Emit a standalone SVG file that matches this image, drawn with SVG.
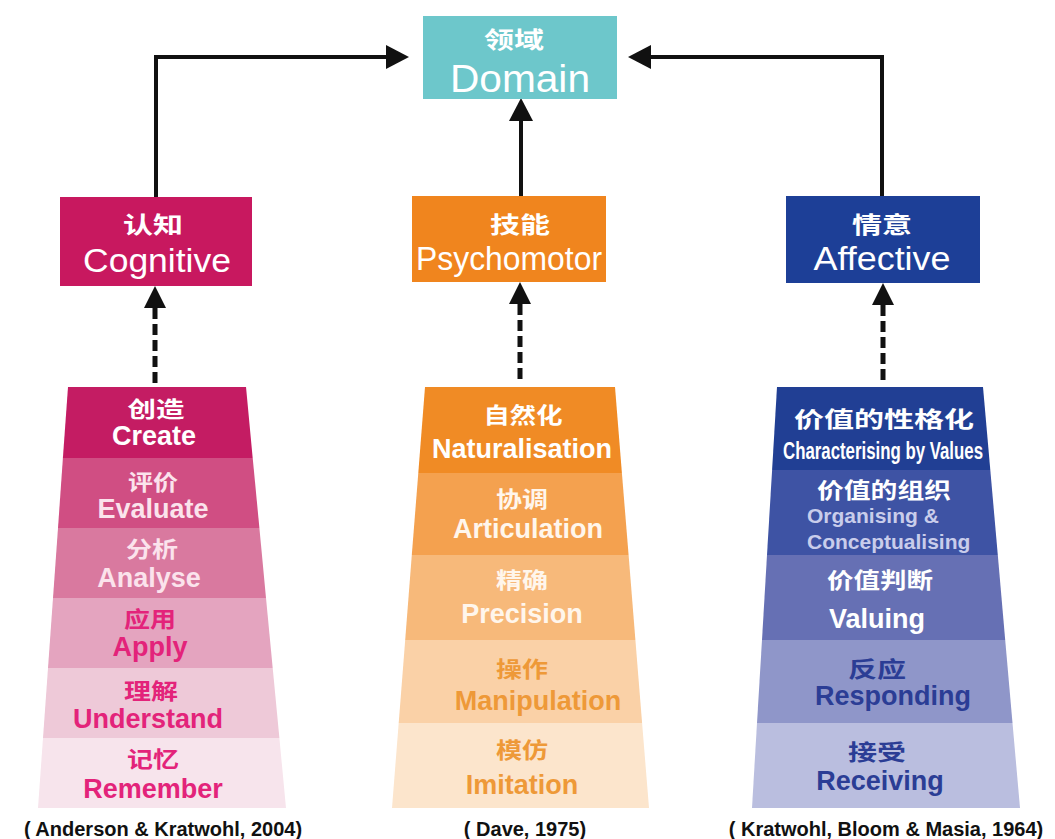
<svg xmlns="http://www.w3.org/2000/svg" width="1055" height="839" viewBox="0 0 1055 839">
<style>
.cjk{font-family:"Noto Sans CJK SC","Noto Sans",sans-serif;font-weight:700;text-anchor:middle;dominant-baseline:central;font-size:22px}
.cjkc{font-size:23px}
.en{font-family:"Liberation Sans",Arial,sans-serif;text-anchor:middle}
.st{text-anchor:start}
.lvl{font-size:27px;font-weight:700}
.cat{font-size:33px;fill:#fff}
.cite{font-family:"Liberation Sans",Arial,sans-serif;font-weight:700;font-size:20px;text-anchor:middle;fill:#111}
.solid{fill:none;stroke:#111;stroke-width:4}
.dash{fill:none;stroke:#111;stroke-width:5;stroke-dasharray:11 5}
.w{fill:#fff}
</style>
<defs>
<marker id="ah" markerUnits="userSpaceOnUse" markerWidth="24" markerHeight="26" refX="0" refY="12" orient="auto" overflow="visible">
<path d="M0,0 L23,12 L0,24 z" fill="#111"/>
</marker>
<marker id="ah2" markerUnits="userSpaceOnUse" markerWidth="23" markerHeight="23" refX="0" refY="11" orient="auto" overflow="visible">
<path d="M0,0 L22,11 L0,22 z" fill="#111"/>
</marker>
</defs>
<rect width="1055" height="839" fill="#fff"/>

<g id="connectors">
<path class="solid" d="M156,198 V57 H386" marker-end="url(#ah)"/>
<path class="solid" d="M521,196 V121" marker-end="url(#ah)"/>
<path class="solid" d="M882,196 V57 H651" marker-end="url(#ah)"/>
<path class="dash" d="M155,383 V308" marker-end="url(#ah2)"/>
<path class="dash" d="M520,379 V304" marker-end="url(#ah2)"/>
<path class="dash" d="M883,380 V305" marker-end="url(#ah2)"/>
</g>

<g id="domain">
<rect x="423" y="16" width="194" height="83" fill="#6DC7CB"/>
<text class="cjk cjkc w" x="514" y="38" textLength="60" lengthAdjust="spacingAndGlyphs">领域</text>
<text class="en w" x="520" y="92" font-size="38" textLength="140" lengthAdjust="spacingAndGlyphs">Domain</text>
</g>

<g id="cognitive">
<rect x="60" y="197" width="192" height="89" fill="#C8185F"/>
<text class="cjk cjkc w" x="153" y="223" textLength="60" lengthAdjust="spacingAndGlyphs">认知</text>
<text class="en cat" x="157" y="272" textLength="148" lengthAdjust="spacingAndGlyphs">Cognitive</text>
</g>

<g id="psychomotor">
<rect x="412" y="196" width="194" height="86" fill="#F0851E"/>
<text class="cjk cjkc w" x="520" y="223" textLength="60" lengthAdjust="spacingAndGlyphs">技能</text>
<text class="en cat" x="509" y="270" textLength="186" lengthAdjust="spacingAndGlyphs">Psychomotor</text>
</g>

<g id="affective">
<rect x="786" y="196" width="194" height="87" fill="#1D3F97"/>
<text class="cjk cjkc w" x="882" y="223" textLength="60" lengthAdjust="spacingAndGlyphs">情意</text>
<text class="en cat" x="882" y="270" textLength="137" lengthAdjust="spacingAndGlyphs">Affective</text>
</g>

<g id="cognitive-levels">
<polygon points="68,387 246,387 252.7,458 62.9,458" fill="#C41C63"/>
<polygon points="62.9,458 252.7,458 259.4,528 58,528" fill="#D04E83"/>
<polygon points="58,528 259.4,528 266,598 53,598" fill="#D9799F"/>
<polygon points="53,598 266,598 272.7,668 48,668" fill="#E4A4BF"/>
<polygon points="48,668 272.7,668 279.4,738 43,738" fill="#EEC9D8"/>
<polygon points="43,738 279.4,738 286,808 38,808" fill="#F7E4EC"/>
<text class="cjk w" x="156" y="407" textLength="57" lengthAdjust="spacingAndGlyphs">创造</text>
<text class="en lvl w" x="154" y="445">Create</text>
<text class="cjk" x="153" y="480" fill="#FBE3EC" textLength="50" lengthAdjust="spacingAndGlyphs">评价</text>
<text class="en lvl" x="153" y="518" fill="#FBE3EC">Evaluate</text>
<text class="cjk" x="152" y="547" fill="#FBE3EC" textLength="52" lengthAdjust="spacingAndGlyphs">分析</text>
<text class="en lvl" x="149" y="587" fill="#FBE3EC">Analyse</text>
<text class="cjk" x="150" y="617" fill="#E3237A" textLength="52" lengthAdjust="spacingAndGlyphs">应用</text>
<text class="en lvl" x="150" y="656" fill="#E3237A">Apply</text>
<text class="cjk" x="151" y="689" fill="#E3237A" textLength="54" lengthAdjust="spacingAndGlyphs">理解</text>
<text class="en lvl" x="148" y="728" fill="#E3237A">Understand</text>
<text class="cjk" x="153" y="757" fill="#E3237A" textLength="52" lengthAdjust="spacingAndGlyphs">记忆</text>
<text class="en lvl" x="153" y="798" fill="#E3237A">Remember</text>
</g>

<g id="psychomotor-levels">
<polygon points="425,387 615,387 621.9,473 418.3,473" fill="#F08B25"/>
<polygon points="418.3,473 621.9,473 628.6,555 411.8,555" fill="#F4A14F"/>
<polygon points="411.8,555 628.6,555 635.4,640 405.2,640" fill="#F7B97A"/>
<polygon points="405.2,640 635.4,640 642.1,723 398.7,723" fill="#FAD1A7"/>
<polygon points="398.7,723 642.1,723 649,808 392,808" fill="#FCE5CC"/>
<text class="cjk w" x="523" y="413" textLength="79" lengthAdjust="spacingAndGlyphs">自然化</text>
<text class="en lvl w" x="522" y="458">Naturalisation</text>
<text class="cjk" x="522" y="497" fill="#FFF6EC" textLength="52" lengthAdjust="spacingAndGlyphs">协调</text>
<text class="en lvl" x="528" y="538" fill="#FFF6EC">Articulation</text>
<text class="cjk" x="522" y="578" fill="#FFF6EC" textLength="52" lengthAdjust="spacingAndGlyphs">精确</text>
<text class="en lvl" x="522" y="623" fill="#FFF6EC">Precision</text>
<text class="cjk" x="522" y="667" fill="#EE9938" textLength="52" lengthAdjust="spacingAndGlyphs">操作</text>
<text class="en lvl" x="538" y="710" fill="#EE9938">Manipulation</text>
<text class="cjk" x="522" y="748" fill="#EE9938" textLength="52" lengthAdjust="spacingAndGlyphs">模仿</text>
<text class="en lvl" x="522" y="794" fill="#EE9938">Imitation</text>
</g>

<g id="affective-levels">
<polygon points="777,387 983,387 990.3,470 772.1,470" fill="#213F94"/>
<polygon points="772.1,470 990.3,470 997.8,555 767,555" fill="#3E53A4"/>
<polygon points="767,555 997.8,555 1005.2,640 762,640" fill="#6670B4"/>
<polygon points="762,640 1005.2,640 1012.5,723 757,723" fill="#8F96C9"/>
<polygon points="757,723 1012.5,723 1020,808 752,808" fill="#BABEDF"/>
<text class="cjk w" x="884" y="417" font-size="24" textLength="180" lengthAdjust="spacingAndGlyphs">价值的性格化</text>
<text class="en w" x="883" y="459" font-size="23" font-weight="700" textLength="200" lengthAdjust="spacingAndGlyphs">Characterising by Values</text>
<text class="cjk w" x="884" y="488" font-size="23" textLength="134" lengthAdjust="spacingAndGlyphs">价值的组织</text>
<text class="en st" x="807" y="523" font-size="21" font-weight="700" fill="#C9CDEB">Organising &amp;</text>
<text class="en st" x="807" y="549" font-size="21" font-weight="700" fill="#C9CDEB">Conceptualising</text>
<text class="cjk w" x="880" y="578" textLength="106" lengthAdjust="spacingAndGlyphs">价值判断</text>
<text class="en lvl w" x="877" y="628">Valuing</text>
<text class="cjk" x="877" y="667" fill="#2B3D95" textLength="58" lengthAdjust="spacingAndGlyphs">反应</text>
<text class="en lvl" x="893" y="705" fill="#2B3D95">Responding</text>
<text class="cjk" x="877" y="750" fill="#2B3D95" textLength="58" lengthAdjust="spacingAndGlyphs">接受</text>
<text class="en lvl" x="880" y="790" fill="#2B3D95">Receiving</text>
</g>

<g id="citations">
<text class="cite" x="163" y="836">( Anderson &amp; Kratwohl, 2004)</text>
<text class="cite" x="525" y="836">( Dave, 1975)</text>
<text class="cite" x="886" y="836">( Kratwohl, Bloom &amp; Masia, 1964)</text>
</g>
</svg>
